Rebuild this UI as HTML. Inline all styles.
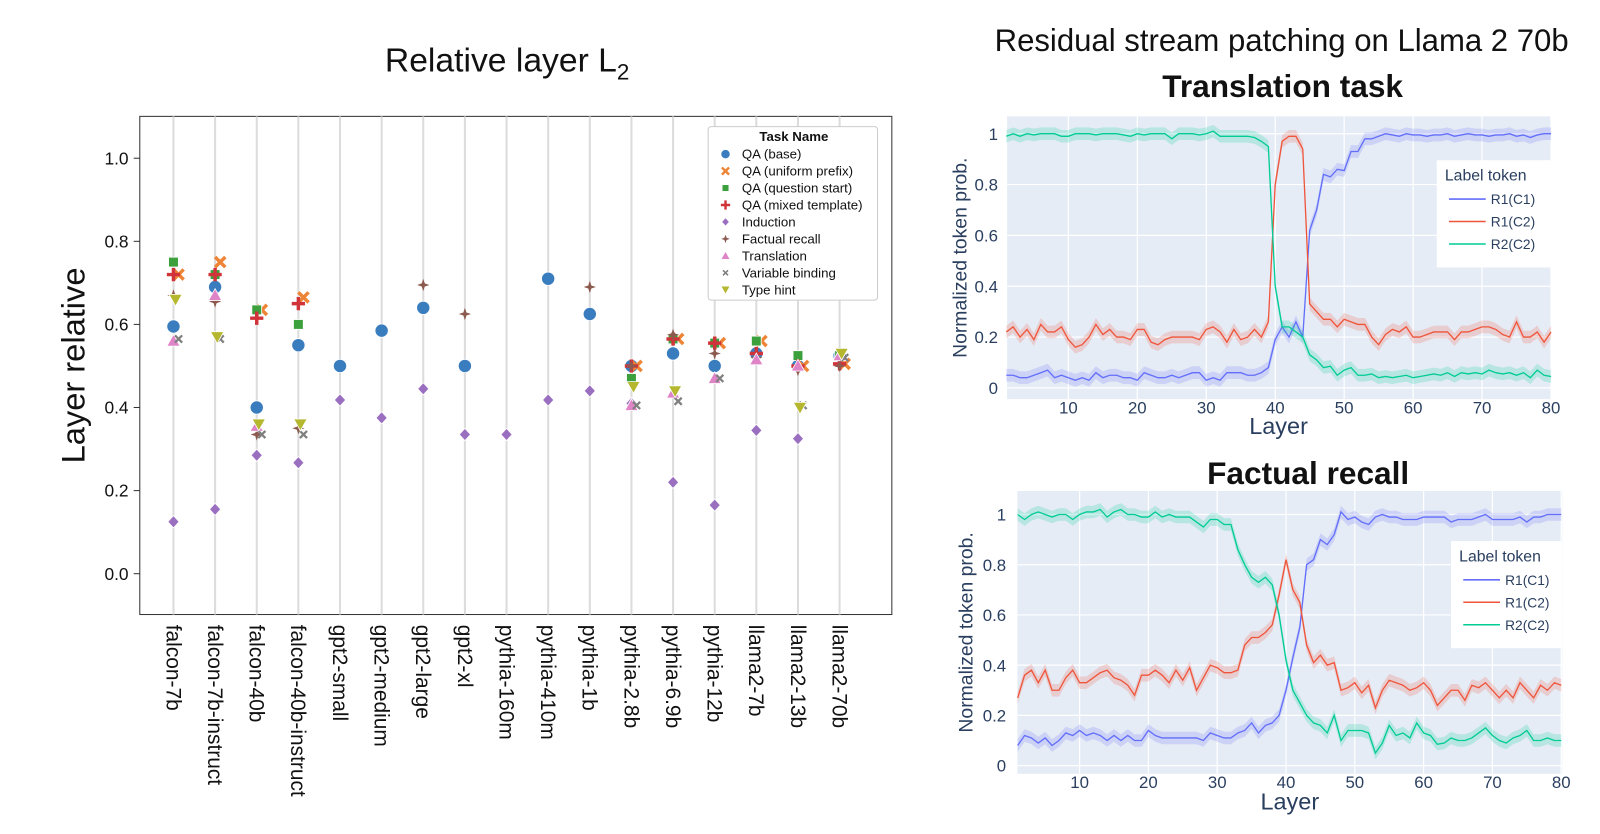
<!DOCTYPE html>
<html><head><meta charset="utf-8"><style>
html,body{margin:0;padding:0;background:#fff;}
svg{display:block;font-family:"Liberation Sans",sans-serif;}
</style></head><body>
<svg id="root" width="1600" height="834" viewBox="0 0 1568 817" preserveAspectRatio="none" xmlns="http://www.w3.org/2000/svg">
<g id="left">
<text x="497" y="70" font-size="33" text-anchor="middle" fill="#111">Relative layer L<tspan font-size="22" dy="8">2</tspan></text>
<rect x="137" y="114" width="737" height="488" fill="#fff" stroke="#333" stroke-width="1"/>
<text transform="translate(83,358) rotate(-90)" font-size="32" text-anchor="middle" fill="#111">Layer relative</text>
</g>
<g id="right">
<text x="1256" y="50" font-size="30.5" text-anchor="middle" fill="#111">Residual stream patching on Llama 2 70b</text>
<text x="1257" y="95" font-size="31" font-weight="bold" text-anchor="middle" fill="#111">Translation task</text>
<text x="1282" y="474" font-size="31" font-weight="bold" text-anchor="middle" fill="#111">Factual recall</text>
</g>
</svg>
<script>
// ---------- Left chart data ----------
const models = ["falcon-7b","falcon-7b-instruct","falcon-40b","falcon-40b-instruct","gpt2-small","gpt2-medium","gpt2-large","gpt2-xl","pythia-160m","pythia-410m","pythia-1b","pythia-2.8b","pythia-6.9b","pythia-12b","llama2-7b","llama2-13b","llama2-70b"];
const yTicks = [0.0,0.2,0.4,0.6,0.8,1.0];
const yTickLabels = ["0.0","0.2","0.4","0.6","0.8","1.0"];
const taskNames = ["QA (base)","QA (uniform prefix)","QA (question start)","QA (mixed template)","Induction","Factual recall","Translation","Variable binding","Type hint"];
const qaBase = [0.595,0.69,0.40,0.55,0.50,0.585,0.64,0.50,null,0.71,0.625,0.50,0.53,0.50,0.53,0.50,0.525];
const qaUniform = [0.72,0.75,0.635,0.665,null,null,null,null,null,null,null,0.50,0.565,0.555,0.56,0.50,0.505];
const qaQStart = [0.75,0.72,0.635,0.60,null,null,null,null,null,null,null,0.47,0.565,0.555,0.56,0.525,0.525];
const qaMixed = [0.72,0.72,0.615,0.65,null,null,null,null,null,null,null,0.50,0.565,0.555,0.53,0.50,0.505];
const induction = [0.125,0.155,0.285,0.267,0.418,0.375,0.445,0.335,0.335,0.418,0.44,0.41,0.22,0.165,0.345,0.325,null];
const factual = [0.67,0.655,0.335,0.35,null,null,0.695,0.625,null,null,0.69,0.50,0.575,0.53,0.52,0.49,0.50];
const translation = [0.56,0.67,0.355,null,null,null,null,null,null,null,null,0.405,0.435,0.47,0.515,0.50,0.525];
const varBinding = [0.565,0.565,0.335,0.335,null,null,null,null,null,null,null,0.405,0.415,0.47,null,0.405,0.52];
const typeHint = [0.66,0.57,0.36,0.36,null,null,null,null,null,null,null,0.45,0.44,null,null,0.40,0.53];

// ---------- Right chart data ----------
const layerTicks = [10,20,30,40,50,60,70,80];
const probTicks = [0,0.2,0.4,0.6,0.8,1];
const probTickLabels = ["0","0.2","0.4","0.6","0.8","1"];
const seriesNames = ["R1(C1)","R1(C2)","R2(C2)"];
const tBlue = [0.05,0.05,0.04,0.04,0.05,0.06,0.07,0.04,0.05,0.04,0.03,0.04,0.03,0.06,0.04,0.05,0.05,0.04,0.04,0.03,0.06,0.05,0.04,0.04,0.05,0.04,0.05,0.06,0.06,0.03,0.04,0.03,0.06,0.06,0.06,0.05,0.05,0.06,0.08,0.19,0.24,0.2,0.26,0.2,0.62,0.7,0.84,0.83,0.86,0.855,0.93,0.93,0.98,0.98,0.99,1.0,0.995,0.99,1.0,0.995,0.995,0.99,0.995,0.995,1.0,0.99,0.995,1.0,0.995,0.995,0.99,0.995,0.995,1.0,0.99,0.995,0.985,0.995,1.0,1.0];
const tRed = [0.22,0.24,0.2,0.23,0.19,0.25,0.22,0.22,0.24,0.19,0.16,0.17,0.2,0.25,0.21,0.23,0.2,0.2,0.19,0.23,0.23,0.18,0.17,0.19,0.2,0.2,0.2,0.2,0.19,0.23,0.24,0.22,0.18,0.23,0.19,0.2,0.23,0.2,0.26,0.8,0.97,0.99,0.99,0.94,0.33,0.3,0.27,0.27,0.24,0.27,0.26,0.25,0.25,0.2,0.17,0.21,0.23,0.22,0.24,0.2,0.2,0.21,0.22,0.22,0.22,0.19,0.22,0.22,0.23,0.24,0.24,0.23,0.21,0.2,0.26,0.2,0.2,0.22,0.18,0.22];
const tGreen = [0.99,1.0,0.99,1.0,0.995,1.0,1.0,1.0,0.99,0.99,1.0,1.0,1.0,0.995,1.0,1.0,1.0,0.995,0.99,1.0,0.995,1.0,1.0,1.0,0.98,1.0,1.0,1.0,0.995,1.0,1.01,0.99,0.99,0.99,0.99,0.99,0.985,0.97,0.95,0.4,0.24,0.24,0.22,0.2,0.13,0.11,0.08,0.085,0.05,0.07,0.08,0.05,0.05,0.055,0.04,0.045,0.04,0.045,0.05,0.04,0.045,0.05,0.055,0.05,0.06,0.045,0.06,0.055,0.06,0.055,0.07,0.06,0.055,0.06,0.05,0.06,0.04,0.07,0.05,0.045];
const fBlue = [0.08,0.12,0.11,0.09,0.11,0.08,0.1,0.13,0.12,0.14,0.12,0.13,0.12,0.1,0.12,0.1,0.12,0.1,0.1,0.14,0.12,0.11,0.11,0.11,0.11,0.11,0.11,0.1,0.13,0.12,0.11,0.11,0.13,0.14,0.17,0.13,0.16,0.17,0.2,0.3,0.43,0.55,0.8,0.82,0.9,0.88,0.92,1.01,0.98,0.99,0.97,0.96,0.99,1.0,0.99,0.99,0.98,0.98,0.98,0.99,0.99,0.99,0.99,0.97,0.98,0.98,0.98,0.99,1.0,0.98,0.98,0.98,0.98,0.99,0.97,0.99,0.99,1.0,1.0,1.0];
const fRed = [0.27,0.36,0.38,0.33,0.38,0.3,0.3,0.35,0.38,0.33,0.33,0.35,0.37,0.38,0.35,0.34,0.32,0.28,0.36,0.36,0.38,0.36,0.33,0.38,0.34,0.39,0.3,0.35,0.4,0.39,0.37,0.37,0.38,0.48,0.51,0.51,0.53,0.56,0.68,0.82,0.7,0.65,0.48,0.41,0.44,0.4,0.41,0.3,0.31,0.33,0.29,0.32,0.23,0.3,0.34,0.33,0.32,0.3,0.31,0.33,0.3,0.24,0.27,0.3,0.3,0.26,0.32,0.31,0.33,0.3,0.27,0.3,0.27,0.33,0.3,0.27,0.32,0.3,0.33,0.32];
const fGreen = [1.0,0.98,1.0,1.01,1.0,0.99,1.0,1.0,0.98,1.0,1.01,1.01,1.02,0.99,1.01,1.02,1.0,1.0,0.99,0.99,1.01,0.99,1.0,0.99,0.99,0.99,0.97,0.95,0.98,0.98,0.96,0.96,0.86,0.8,0.75,0.73,0.75,0.72,0.6,0.42,0.3,0.25,0.2,0.17,0.16,0.13,0.2,0.1,0.14,0.14,0.14,0.13,0.05,0.09,0.16,0.12,0.13,0.11,0.17,0.13,0.12,0.085,0.09,0.11,0.1,0.1,0.11,0.13,0.15,0.12,0.1,0.09,0.11,0.12,0.14,0.1,0.1,0.11,0.1,0.1];

const NS = "http://www.w3.org/2000/svg";
function mk(tag, attrs, parent){ const e=document.createElementNS(NS,tag); for(const k in attrs) e.setAttribute(k,attrs[k]); parent.appendChild(e); return e; }

// ---------- Left chart ----------
const left = document.getElementById('left');
const xL = i => 170 + i*40.8;
const yL = v => 562 - v*407;
const leftSeries = [qaBase,qaUniform,qaQStart,qaMixed,induction,factual,translation,varBinding,typeHint];
const styles = [
 {c:"#3a7dbf",m:"circle",dx:0},{c:"#ee8436",m:"x",dx:5},{c:"#3ca03c",m:"square",dx:0},{c:"#d0343a",m:"plus",dx:0},
 {c:"#9a6fc0",m:"diamond",dx:0},{c:"#8c5a4e",m:"star",dx:0},{c:"#e084c8",m:"tri",dx:0},{c:"#7f7f7f",m:"xs",dx:5},{c:"#b5b82e",m:"tridown",dx:2}];
models.forEach((m,i)=>{
  const l=mk('line',{x1:xL(i),x2:xL(i),y1:114,y2:602,stroke:"#dcdcdc","stroke-width":2},left);
  
  
  const t=mk('text',{transform:`translate(${xL(i)-7},612) rotate(90)`,"font-size":20.5,fill:"#111"},left);
  t.textContent=m;
  
  
});
yTicks.forEach((v,i)=>{
  const tk=mk('line',{x1:131,x2:137,y1:yL(v),y2:yL(v),stroke:"#333"},left);
  
  
  const t=mk('text',{x:126,y:yL(v)+6,"font-size":17,"text-anchor":"end",fill:"#111"},left);
  t.textContent=yTickLabels[i];
  
  
});
function marker(g,type,x,y,c,s){
  let e;
  if(type==="circle") e=mk('circle',{cx:x,cy:y,r:6.5*s,fill:c,stroke:"#fff","stroke-width":0.8},g);
  else if(type==="square") e=mk('rect',{x:x-4.8*s,y:y-4.8*s,width:9.6*s,height:9.6*s,fill:c,stroke:"#fff","stroke-width":0.8},g);
  else if(type==="diamond") e=mk('path',{d:`M${x},${y-6*s}L${x+5.5*s},${y}L${x},${y+6*s}L${x-5.5*s},${y}Z`,fill:c,stroke:"#fff","stroke-width":0.8},g);
  else if(type==="tri") e=mk('path',{d:`M${x},${y-6.5*s}L${x+6.5*s},${y+5*s}L${x-6.5*s},${y+5*s}Z`,fill:c,stroke:"#fff","stroke-width":0.8},g);
  else if(type==="tridown") e=mk('path',{d:`M${x},${y+6.5*s}L${x+6.5*s},${y-5*s}L${x-6.5*s},${y-5*s}Z`,fill:c,stroke:"#fff","stroke-width":0.8},g);
  else if(type==="x") e=mk('path',{d:`M${x-5*s},${y-5*s}L${x+5*s},${y+5*s}M${x+5*s},${y-5*s}L${x-5*s},${y+5*s}`,stroke:c,"stroke-width":3.4*s},g);
  else if(type==="plus") e=mk('path',{d:`M${x-6.5*s},${y}L${x+6.5*s},${y}M${x},${y-6.5*s}L${x},${y+6.5*s}`,stroke:c,"stroke-width":3.4*s},g);
  else if(type==="xs") e=mk('path',{d:`M${x-3.5*s},${y-3.5*s}L${x+3.5*s},${y+3.5*s}M${x+3.5*s},${y-3.5*s}L${x-3.5*s},${y+3.5*s}`,stroke:c,"stroke-width":2.2*s},g);
  else if(type==="star") e=mk('path',{d:`M${x},${y-6*s}L${x+1.5*s},${y-1.5*s}L${x+6*s},${y}L${x+1.5*s},${y+1.5*s}L${x},${y+6*s}L${x-1.5*s},${y+1.5*s}L${x-6*s},${y}L${x-1.5*s},${y-1.5*s}Z`,fill:c},g);
  return e;
}
leftSeries.forEach((arr,si)=>{
  const st=styles[si];
  const g=mk('g',{},left);
  
  
  arr.forEach((v,i)=>{
    if(v===null) return;
    const e=marker(g,st.m,xL(i)+st.dx,yL(v),st.c,1);
    
    
  });
});
// legend
const lg=mk('g',{},left);


mk('rect',{x:694,y:124,width:166,height:170,rx:3,fill:"#fff",stroke:"#ccc"},lg);
const lt=mk('text',{x:778,y:138,"font-size":13,"font-weight":"bold","text-anchor":"middle",fill:"#111"},lg);
lt.textContent="Task Name";
taskNames.forEach((n,i)=>{
  const y=151+i*16.6;
  const eg=mk('g',{},lg);
  
  
  marker(eg,styles[i].m,711,y,styles[i].c,0.7);
  const t=mk('text',{x:727,y:y+4.5,"font-size":13,fill:"#111"},eg);
  t.textContent=n;
});

// ---------- Right charts ----------
const right=document.getElementById('right');
const colors=["#636efa","#EF553B","#00cc96"];
function lineChart(cfg){
  const {px,py,pw,ph,x0,xs,y0,ys,data,legend,name,ytlx}=cfg;
  const X=l=>x0+(l-10)*xs, Y=v=>y0-v*ys;
  const g=mk('g',{},right);
  
  
  const bg=mk('rect',{x:px,y:py,width:pw,height:ph,fill:"#e5ecf6"},g);
  
  
  probTicks.forEach((v,i)=>{
    mk('line',{x1:px,x2:px+pw,y1:Y(v),y2:Y(v),stroke:"#fff","stroke-width":1.2},g);
    const t=mk('text',{x:ytlx,y:Y(v)+6,"font-size":16.5,"text-anchor":"end",fill:"#2a3f5f"},g);
    t.textContent=probTickLabels[i];
    
    
  });
  layerTicks.forEach(l=>{
    mk('line',{x1:X(l),x2:X(l),y1:py,y2:py+ph,stroke:"#fff","stroke-width":1.2},g);
    const t=mk('text',{x:X(l),y:py+ph+14,"font-size":16.5,"text-anchor":"middle",fill:"#2a3f5f"},g);
    t.textContent=l;
    
    
  });
  data.forEach((arr,si)=>{
    const up=arr.map((v,i)=>`${X(i+1).toFixed(1)},${Y(v+0.025).toFixed(1)}`);
    const dn=arr.map((v,i)=>`${X(i+1).toFixed(1)},${Y(v-0.025).toFixed(1)}`).reverse();
    const band=mk('polygon',{points:up.concat(dn).join(' '),fill:colors[si],opacity:0.2},g);
    
    
    const ln=mk('polyline',{points:arr.map((v,i)=>`${X(i+1).toFixed(1)},${Y(v).toFixed(1)}`).join(' '),fill:"none",stroke:colors[si],"stroke-width":1.3},g);
    
    
  });
  const yt=mk('text',{transform:`translate(${cfg.ylx},${py+ph/2}) rotate(-90)`,"font-size":19,"text-anchor":"middle",fill:"#2a3f5f"},g);
  yt.textContent="Normalized token prob.";
  
  
  const xt=mk('text',{x:cfg.xlx,y:cfg.xly,"font-size":23,"text-anchor":"middle",fill:"#2a3f5f"},g);
  xt.textContent="Layer";
  
  
  const lgg=mk('g',{},g);
  
  
  mk('rect',{x:legend.x,y:legend.y,width:legend.w,height:105,fill:"#fff"},lgg);
  const ltt=mk('text',{x:legend.x+8,y:legend.y+20,"font-size":15.5,fill:"#2a3f5f"},lgg);
  ltt.textContent="Label token";
  seriesNames.forEach((n,i)=>{
    const y=legend.y+38+i*22;
    const eg=mk('g',{},lgg);
    
    
    mk('line',{x1:legend.x+12,x2:legend.x+48,y1:y,y2:y,stroke:colors[i],"stroke-width":1.5},eg);
    const t=mk('text',{x:legend.x+53,y:y+5,"font-size":13.5,fill:"#2a3f5f"},eg);
    t.textContent=n;
  });
}
lineChart({name:"translation-chart",px:987,py:114,pw:533,ph:277,x0:1047,xs:6.757,y0:380,ys:249,data:[tBlue,tRed,tGreen],legend:{x:1408,y:157,w:112},ytlx:978,ylx:947,xlx:1253,xly:425});
lineChart({name:"factual-chart",px:997,py:481,pw:534,ph:277,x0:1058,xs:6.743,y0:750,ys:246,data:[fBlue,fRed,fGreen],legend:{x:1422,y:530,w:109},ytlx:986,ylx:953,xlx:1264,xly:793});
</script>
</body></html>
